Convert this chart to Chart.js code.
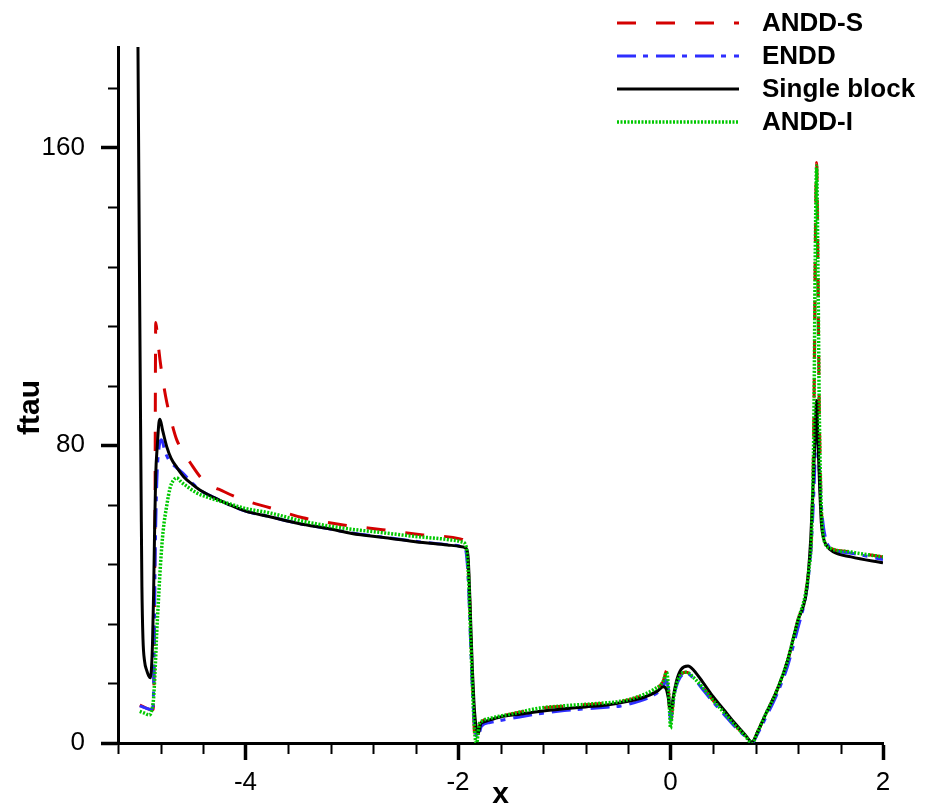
<!DOCTYPE html>
<html>
<head>
<meta charset="utf-8">
<script src="https://cdn.jsdelivr.net/npm/chart.js@4.4.1/dist/chart.umd.min.js"></script>
<style>
    body { margin: 0; background: #ffffff; }
    #wrap { width: 926px; height: 810px; }
</style>
</head>
<body>
<div id="wrap"><canvas id="ftauChart" width="926" height="810"></canvas></div>
<script>
// valori
const xTicks = [-4, -2, 0, 2];
const yTicks = [0, 80, 160];

const xAnddS = [-4.995, -4.95, -4.885, -4.87, -4.86, -4.852, -4.845, -4.825, -4.805, -4.775, -4.74, -4.69, -4.648, -4.58, -4.52, -4.4, -4.2, -4.02, -3.77, -3.46, -3.08, -2.71, -2.33, -1.98, -1.94, -1.925, -1.91, -1.895, -1.88, -1.865, -1.85, -1.84, -1.82, -1.81, -1.8, -1.78, -1.7, -1.5, -1.228, -1.0, -0.7, -0.475, -0.3, -0.15, -0.07, -0.033, -0.02, -0.008, 0.0, 0.012, 0.03, 0.07, 0.15, 0.22, 0.3, 0.4, 0.5, 0.6, 0.7, 0.767, 0.82, 0.9, 1.0, 1.1, 1.2, 1.27, 1.3, 1.33, 1.35, 1.362, 1.375, 1.387, 1.4, 1.415, 1.43, 1.45, 1.5, 1.7, 2.0];
const yAnddS = [10.2, 9.6, 8.9, 9, 20, 60, 113, 108, 103, 97, 91.4, 85.5, 81.5, 78, 75.3, 70.7, 67.5, 65.3, 63.2, 60.5, 58.6, 57.3, 55.9, 54.8, 54.2, 53, 50, 42, 30, 17, 6, 0, 0, 2, 4.5, 5.6, 6.5, 7.8, 9.3, 9.9, 10.5, 11.1, 12.4, 14.4, 16.5, 19.6, 15, 8, 5, 7.5, 12, 17, 19, 17.5, 15, 11.5, 8.3, 5, 2, 0, 3, 8, 14, 22, 33, 40, 46, 58, 88, 130, 156, 130, 90, 67, 58, 54, 52.4, 51.3, 50];

const xEndd = [-4.995, -4.95, -4.885, -4.87, -4.86, -4.85, -4.835, -4.815, -4.79, -4.76, -4.72, -4.65, -4.59, -4.5, -4.43, -4.3, -4.15, -4.0, -3.77, -3.5, -3.2, -3.0, -2.7, -2.4, -2.1, -1.98, -1.94, -1.925, -1.91, -1.895, -1.88, -1.865, -1.85, -1.835, -1.82, -1.81, -1.795, -1.78, -1.7, -1.42, -1.2, -1.0, -0.8, -0.6, -0.475, -0.3, -0.15, -0.07, -0.04, -0.02, -0.008, 0.0, 0.012, 0.03, 0.07, 0.15, 0.22, 0.3, 0.4, 0.5, 0.6, 0.7, 0.767, 0.82, 0.9, 1.0, 1.1, 1.2, 1.27, 1.3, 1.33, 1.35, 1.365, 1.378, 1.39, 1.405, 1.425, 1.44, 1.47, 1.5, 1.7, 2.0];
const yEndd = [10, 9.5, 9, 10, 25, 50, 70, 79, 81.5, 78.5, 76, 74, 72.5, 69.8, 68, 66, 64, 62.3, 60.8, 59, 57.5, 56.4, 55.3, 54.2, 53.3, 52.9, 52.4, 51.5, 47, 38, 26, 15, 7, 3, 1.5, 1.5, 3, 4.5, 5.5, 7, 8, 8.7, 9.2, 9.6, 9.9, 11.2, 13, 15, 17, 14, 8.5, 6, 8, 12, 16.5, 18.7, 17.3, 14.5, 11, 7.8, 4.6, 1.8, 0, 2.5, 7, 13, 20.5, 31, 39, 45, 56, 68, 80, 86, 80, 70, 62, 58, 54, 52.5, 51, 49.3];

const xSingle = [-5.015, -5.0, -4.99, -4.982, -4.975, -4.965, -4.95, -4.93, -4.91, -4.895, -4.885, -4.875, -4.865, -4.855, -4.845, -4.83, -4.815, -4.805, -4.78, -4.74, -4.7, -4.645, -4.58, -4.5, -4.43, -4.3, -4.15, -4.0, -3.77, -3.5, -3.2, -3.0, -2.7, -2.4, -2.1, -1.98, -1.93, -1.915, -1.905, -1.895, -1.88, -1.865, -1.85, -1.835, -1.82, -1.81, -1.8, -1.785, -1.76, -1.7, -1.6, -1.4, -1.2, -1.0, -0.8, -0.6, -0.4, -0.25, -0.12, -0.07, -0.04, -0.02, -0.005, 0.01, 0.03, 0.06, 0.1, 0.165, 0.22, 0.3, 0.4, 0.5, 0.6, 0.7, 0.767, 0.82, 0.9, 1.0, 1.1, 1.2, 1.27, 1.295, 1.32, 1.34, 1.36, 1.375, 1.388, 1.405, 1.42, 1.44, 1.47, 1.53, 1.7, 2.0];
const ySingle = [200, 135, 95, 65, 42, 28, 22, 19.5, 18, 17.5, 20, 27, 40, 58, 72, 80, 86, 87, 84, 79.5, 76.5, 74, 71.5, 69.5, 68, 66, 64, 62.3, 60.8, 59, 57.5, 56.3, 55.2, 54.1, 53.2, 52.8, 52.4, 51.8, 50, 44, 32, 20, 11, 5.5, 3, 2.5, 3.5, 5.2, 5.6, 6.2, 7.0, 7.8, 8.6, 9.2, 9.7, 10.2, 11.2, 12.3, 14, 15.1, 14.5, 12, 9, 9.5, 13, 17, 19.8, 20.7, 19.5, 16.5, 12.5, 9, 5.5, 2.3, 0.3, 3, 8, 14, 22, 33, 39, 45, 55, 68, 82, 92, 81, 68, 59, 55, 53, 51.4, 50, 48.4];

const xAnddI = [-4.995, -4.95, -4.905, -4.88, -4.865, -4.85, -4.835, -4.82, -4.8, -4.775, -4.74, -4.71, -4.68, -4.648, -4.6, -4.53, -4.46, -4.3, -4.18, -4.0, -3.77, -3.46, -3.1, -2.71, -2.4, -2.08, -1.96, -1.93, -1.915, -1.9, -1.885, -1.87, -1.855, -1.84, -1.83, -1.82, -1.81, -1.8, -1.78, -1.7, -1.5, -1.228, -1.0, -0.7, -0.475, -0.3, -0.15, -0.07, -0.036, -0.02, -0.008, 0.0, 0.012, 0.03, 0.07, 0.15, 0.22, 0.3, 0.4, 0.5, 0.6, 0.7, 0.767, 0.82, 0.9, 1.0, 1.1, 1.2, 1.27, 1.3, 1.33, 1.35, 1.362, 1.375, 1.387, 1.4, 1.415, 1.43, 1.45, 1.5, 1.7, 2.0];
const yAnddI = [8.5, 8, 7.5, 9, 12, 20, 30, 38, 48, 57, 64, 68.5, 70.5, 71.2, 70, 68.5, 67.2, 65.5, 64.5, 63, 61.8, 59.6, 57.8, 56.5, 55.5, 54.6, 54, 53.3, 51, 44, 32, 20, 9, 2, 0, 0.5, 3, 5, 5.8, 6.6, 7.8, 9.4, 10, 10.6, 11.2, 12.5, 14.5, 16.5, 19, 15, 8, 4, 7, 12, 17, 19, 17.5, 15, 11.5, 8.3, 5, 2, 0, 3, 8, 14, 22, 33, 40, 46, 58, 88, 130, 155, 130, 90, 67, 58, 54, 52.4, 51.3, 50];

const fontFamily = "'Liberation Sans', Arial, sans-serif";

function toPoints(xs, ys) {
    return xs.map((x, i) => ({ x: x, y: ys[i] }));
}

// tacche secondarie sugli assi
const minorTicks = {
    id: "minorTicks",
    afterDraw(chart) {
        const ctx = chart.ctx;
        const xs = chart.scales.x;
        const ys = chart.scales.y;
        ctx.save();
        ctx.strokeStyle = "#000000";
        ctx.lineWidth = 2;
        ctx.beginPath();
        for (let v = -5.2; v < 2.01; v += 0.4) {
            if (xTicks.some(t => Math.abs(t - v) < 0.01)) continue;
            const px = Math.round(xs.getPixelForValue(v)) + 0.5;
            ctx.moveTo(px, ys.bottom);
            ctx.lineTo(px, ys.bottom + 11);
        }
        for (let v = 16; v < ys.max; v += 16) {
            if (yTicks.includes(v)) continue;
            const py = Math.round(ys.getPixelForValue(v)) + 0.5;
            ctx.moveTo(xs.left, py);
            ctx.lineTo(xs.left - 10, py);
        }
        ctx.stroke();
        ctx.restore();
    }
};

// legenda in alto a destra
const lineLegend = {
    id: "lineLegend",
    afterDraw(chart) {
        const ctx = chart.ctx;
        ctx.save();
        chart.data.datasets.forEach((ds, i) => {
            const y = 23 + i * 33;
            ctx.strokeStyle = ds.borderColor;
            ctx.lineWidth = ds.borderWidth;
            ctx.setLineDash(ds.borderDash || []);
            ctx.beginPath();
            ctx.moveTo(617, y);
            ctx.lineTo(739, y);
            ctx.stroke();
            ctx.setLineDash([]);
            ctx.fillStyle = "#000000";
            ctx.font = "bold 26px " + fontFamily;
            ctx.textBaseline = "middle";
            ctx.textAlign = "left";
            ctx.fillText(ds.label, 762, y + 1);
        });
        ctx.restore();
    }
};

const ctx = document.getElementById("ftauChart").getContext("2d");

new Chart(ctx, {
    type: "line",
    data: {
        datasets: [
            {
                label: "ANDD-S",
                data: toPoints(xAnddS, yAnddS),
                borderColor: "#d40000",
                borderWidth: 3,
                borderDash: [19, 20],
                order: 4
            },
            {
                label: "ENDD",
                data: toPoints(xEndd, yEndd),
                borderColor: "#2e2eff",
                borderWidth: 3,
                borderDash: [19, 7, 5, 8],
                order: 3
            },
            {
                label: "Single block",
                data: toPoints(xSingle, ySingle),
                borderColor: "#000000",
                borderWidth: 3,
                order: 2
            },
            {
                label: "ANDD-I",
                data: toPoints(xAnddI, yAnddI),
                borderColor: "#00c800",
                borderWidth: 3.5,
                borderDash: [2, 1.5],
                order: 1
            }
        ]
    },
    options: {
        responsive: false,
        animation: false,
        elements: {
            point: { radius: 0 },
            line: { cubicInterpolationMode: "monotone", fill: false }
        },
        layout: {
            padding: { top: 47, right: 43, left: 0, bottom: 0 }
        },
        plugins: {
            legend: { display: false },
            tooltip: { enabled: false }
        },
        scales: {
            x: {
                type: "linear",
                min: -5.2,
                max: 2,
                afterBuildTicks: axis => { axis.ticks = xTicks.map(v => ({ value: v })); },
                afterFit: scale => { scale.height = 67; },
                border: { display: true, color: "#000000", width: 3 },
                grid: {
                    drawOnChartArea: false,
                    drawTicks: true,
                    tickLength: 17,
                    tickWidth: 3.5,
                    tickColor: "#000000"
                },
                ticks: {
                    color: "#000000",
                    padding: 7,
                    maxRotation: 0,
                    font: { family: fontFamily, size: 26 },
                    callback: v => String(v)
                },
                title: {
                    display: true,
                    text: "x",
                    color: "#000000",
                    font: { family: fontFamily, size: 30, weight: "bold", lineHeight: 1 },
                    padding: { top: 0, bottom: 0 }
                }
            },
            y: {
                type: "linear",
                min: 0,
                max: 187,
                afterBuildTicks: axis => { axis.ticks = yTicks.map(v => ({ value: v })); },
                afterFit: scale => { scale.width = 118; },
                border: { display: true, color: "#000000", width: 3 },
                grid: {
                    drawOnChartArea: false,
                    drawTicks: true,
                    tickLength: 17,
                    tickWidth: 3.5,
                    tickColor: "#000000"
                },
                ticks: {
                    color: "#000000",
                    padding: 16,
                    font: { family: fontFamily, size: 26 },
                    callback: v => String(v)
                },
                title: {
                    display: true,
                    text: "ftau   ",
                    color: "#000000",
                    font: { family: fontFamily, size: 30, weight: "bold", lineHeight: 1 },
                    padding: { top: 16, bottom: 0 }
                }
            }
        }
    },
    plugins: [minorTicks, lineLegend]
});
</script>
</body>
</html>
